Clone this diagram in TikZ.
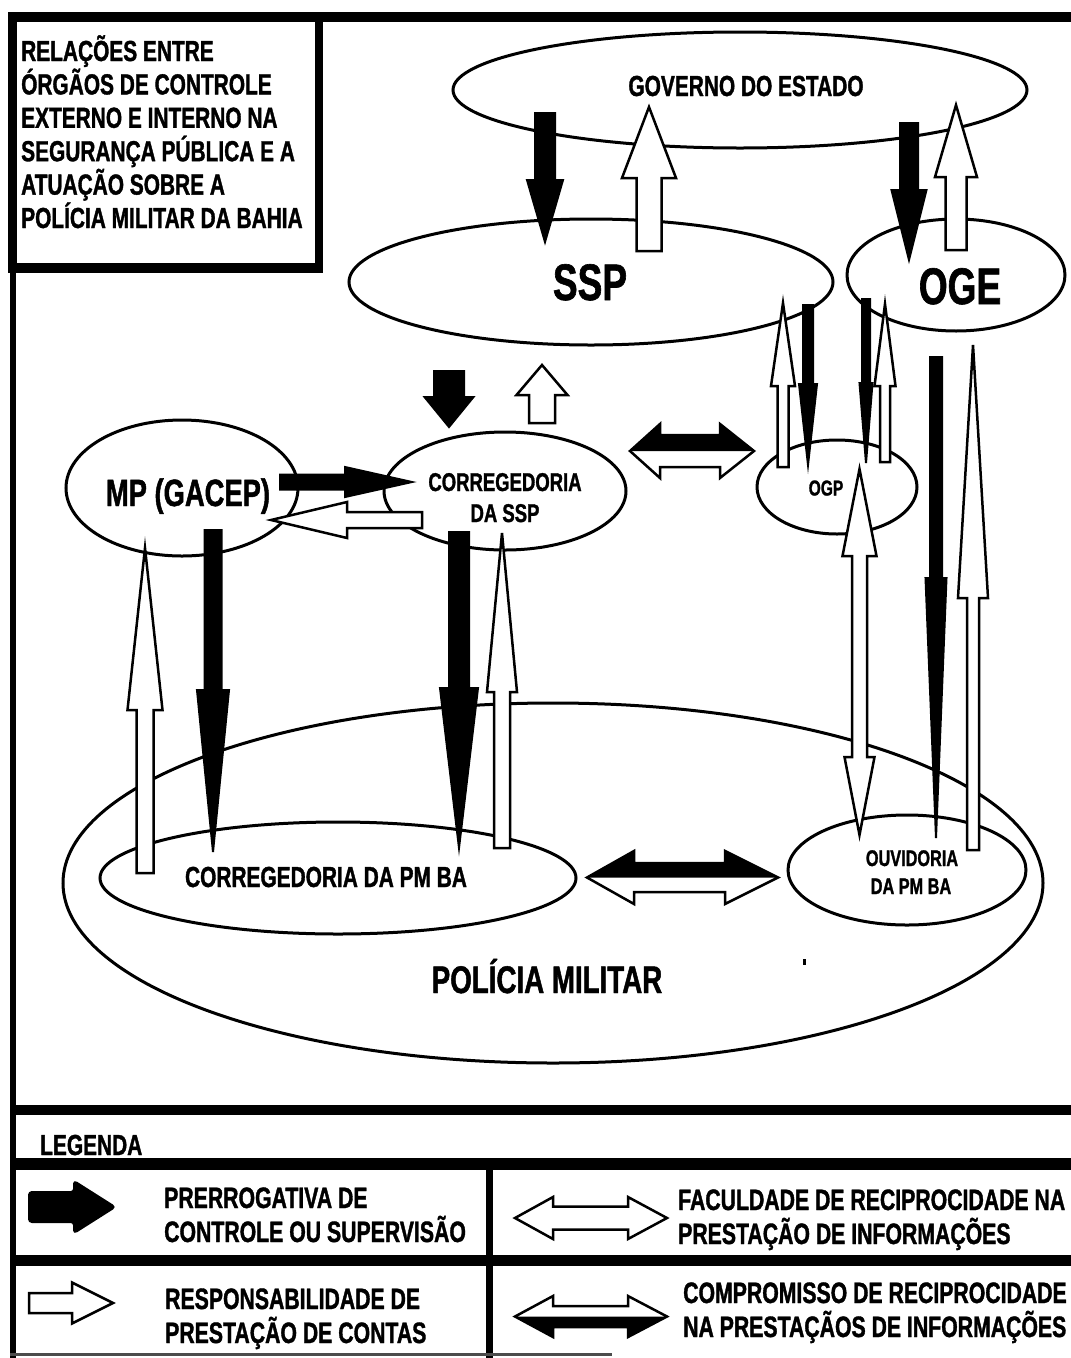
\documentclass[tikz,border=0pt]{standalone}
\usepackage{fontspec}
\newfontfamily\nar[FakeStretch=0.72,FakeBold=1.2]{Liberation Sans}
\usetikzlibrary{shapes.geometric,calc}
\newcommand{\fsz}[1]{\fontsize{#1pt}{#1pt}\selectfont}
% single block arrow: #1 style, #2 tail, #3 tip, #4 shaft half width, #5 head half width, #6 head length
\newcommand{\blockarr}[6]{%
  \path ($(#3)!#6!(#2)$) coordinate (hb);
  \draw[#1] ($(#2)!#4!90:(#3)$) -- ($(hb)!#4!90:(#3)$) -- ($(hb)!#5!90:(#3)$) -- (#3)
    -- ($(hb)!#5!-90:(#3)$) -- ($(hb)!#4!-90:(#3)$) -- ($(#2)!#4!-90:(#3)$) -- cycle;}
% horizontal double arrow: #1 left tip, #2 right tip, #3 shaft half, #4 head half, #5 left head len, #6 right head len, #7 black half (-1 top, 1 bottom, 0 none)
\newcommand{\dblarr}[7]{%
  \def\dblpath{(#1) -- ($(#1)+(#5,-#4)$) -- ($(#1)+(#5,-#3)$) -- ($(#2)+(-#6,-#3)$) -- ($(#2)+(-#6,-#4)$) -- (#2)
    -- ($(#2)+(-#6,#4)$) -- ($(#2)+(-#6,#3)$) -- ($(#1)+(#5,#3)$) -- ($(#1)+(#5,#4)$) -- cycle}%
  \fill[white] \dblpath;
  \ifnum#7=0\relax\else
    \fill[black] (#1) -- ($(#1)+(#5,{(#7)*#4})$) -- ($(#1)+(#5,{(#7)*#3})$) -- ($(#2)+(-#6,{(#7)*#3})$) -- ($(#2)+(-#6,{(#7)*#4})$) -- (#2) -- cycle;
  \fi
  \draw[dblline] \dblpath;}
\tikzset{
  ell/.style={draw=black, line width=3pt, ellipse, inner sep=0pt, outer sep=0pt},
  lbl/.style={font=\nar\bfseries, inner sep=0pt, text=black},
  blk/.style={fill=black, draw=black, line width=2pt, line join=miter},
  wht/.style={fill=white, draw=black, line width=2.5pt, line join=miter},
  dblline/.style={draw=black, line width=2.5pt, line join=miter},
  band/.style={fill=black, draw=none},
}
\begin{document}
\begin{tikzpicture}[x=1pt,y=-1pt]
\useasboundingbox (0,0) rectangle (1071,1358);
\fill[white] (0,0) rectangle (1071,1358);

% ---------- frame ----------
\fill[band] (8,12) rectangle (1071,22);
\fill[band] (8,12) rectangle (17,273);
\fill[band] (315,12) rectangle (323,273);
\fill[band] (8,263) rectangle (323,273);
\fill[band] (10,263) rectangle (16,1358);
\fill[band] (10,1105) rectangle (1071,1115);
\fill[band] (10,1158) rectangle (1071,1170);
\fill[band] (10,1255) rectangle (1071,1266);
\fill[band] (486,1170) rectangle (493,1358);
\fill[black!70] (10,1353) rectangle (612,1356);

% ---------- ellipses ----------
\node[ell, minimum width=574pt, minimum height=116pt] (gov) at (740,90) {};
\node[ell, minimum width=484pt, minimum height=126pt] (ssp) at (591,282) {};
\node[ell, minimum width=218pt, minimum height=112pt] (oge) at (956,275) {};
\node[ell, minimum width=232pt, minimum height=136pt] (mp) at (182,488) {};
\node[ell, minimum width=242pt, minimum height=118pt] (cssp) at (505,491) {};
\node[ell, minimum width=160pt, minimum height=94pt] (ogp) at (837,487) {};
\node[ell, minimum width=980pt, minimum height=360pt] (pm) at (553,883) {};
\node[ell, minimum width=476pt, minimum height=112pt] (cpm) at (338,878) {};
\node[ell, minimum width=238pt, minimum height=110pt] (ouv) at (907,870) {};

% ---------- arrow end points ----------
\coordinate (b1a) at (545,113);  \coordinate (b1b) at (545,242);
\coordinate (w1a) at (649,251);  \coordinate (w1b) at (649,107);
\coordinate (b2a) at (909,123);  \coordinate (b2b) at (909,260);
\coordinate (w2a) at (956,250);  \coordinate (w2b) at (956,105);
\coordinate (b3a) at (449,371);  \coordinate (b3b) at (449,427);
\coordinate (w3a) at (542,423);  \coordinate (w3b) at (542,365);
\coordinate (b4a) at (280,482);  \coordinate (b4b) at (412,482);
\coordinate (w4a) at (422,520);  \coordinate (w4b) at (271,520);
\coordinate (b5a) at (213,530);  \coordinate (b5b) at (213,852);
\coordinate (w5a) at (145,873);  \coordinate (w5b) at (145,548);
\coordinate (b6a) at (459,532);  \coordinate (b6b) at (459,848);
\coordinate (w6a) at (502,848);  \coordinate (w6b) at (502,533);
\coordinate (w7a) at (783,467);  \coordinate (w7b) at (783,303);
\coordinate (b7a) at (808,305);  \coordinate (b7b) at (808,465);
\coordinate (b8a) at (866,299);  \coordinate (b8b) at (866,463);
\coordinate (w8a) at (885,462);  \coordinate (w8b) at (885,304);
\coordinate (b9a) at (936,357);  \coordinate (b9b) at (936,838);
\coordinate (w9a) at (973,850);  \coordinate (w9b) at (973,345);
\coordinate (d1a) at (630,451);  \coordinate (d1b) at (754,451);
\coordinate (d2a) at (587,877.5);\coordinate (d2b) at (778,877.5);
\coordinate (vdt) at (859.5,469);\coordinate (vdb) at (859.5,835);

% ---------- arrows ----------
\blockarr{blk}{b1a}{b1b}{10pt}{18pt}{62pt}
\blockarr{wht}{w1a}{w1b}{12.5pt}{27pt}{71pt}
\blockarr{blk}{b2a}{b2b}{9pt}{17.5pt}{70pt}
\blockarr{wht}{w2a}{w2b}{10.5pt}{21pt}{72pt}
\blockarr{blk}{b3a}{b3b}{15pt}{24.5pt}{30pt}
\blockarr{wht}{w3a}{w3b}{13pt}{25.5pt}{30pt}
\blockarr{blk}{b4a}{b4b}{7.5pt}{15pt}{67pt}
\blockarr{wht}{w4a}{w4b}{8pt}{18pt}{76pt}
\blockarr{blk}{b5a}{b5b}{8.5pt}{16pt}{162pt}
\blockarr{wht}{w5a}{w5b}{8.5pt}{17.5pt}{162pt}
\blockarr{blk}{b6a}{b6b}{10pt}{19pt}{160pt}
\blockarr{wht}{w6a}{w6b}{8pt}{15pt}{159pt}
\blockarr{wht}{w7a}{w7b}{5.5pt}{12pt}{83pt}
\blockarr{blk}{b7a}{b7b}{5pt}{9pt}{81pt}
\blockarr{blk}{b8a}{b8b}{4pt}{6.5pt}{80pt}
\blockarr{wht}{w8a}{w8b}{5pt}{10.5pt}{82pt}
\blockarr{blk}{b9a}{b9b}{6pt}{10.5pt}{260pt}
\blockarr{wht}{w9a}{w9b}{6pt}{15pt}{253pt}
% vertical white double arrow OGP <-> Ouvidoria
\draw[wht] (vdt) -- ($(vdt)+(17,87)$) -- ($(vdt)+(7.5,87)$) -- ($(vdb)+(7.5,-78)$) -- ($(vdb)+(15,-78)$) -- (vdb)
  -- ($(vdb)+(-15,-78)$) -- ($(vdb)+(-7.5,-78)$) -- ($(vdt)+(-7.5,87)$) -- ($(vdt)+(-17,87)$) -- cycle;
% horizontal double arrows
\dblarr{d1a}{d1b}{16}{27}{30}{34}{-1}
\dblarr{d2a}{d2b}{14.5}{26.5}{47}{53}{-1}

\fill[black] (803,959) rectangle (806,965);

% ---------- labels ----------
\node[lbl, font=\nar\bfseries\fsz{29}, anchor=base west] (t1) at (21,61) {RELAÇÕES ENTRE};
\node[lbl, font=\nar\bfseries\fsz{29}, anchor=base west] (t2) at (21,94.4) {ÓRGÃOS DE CONTROLE};
\node[lbl, font=\nar\bfseries\fsz{29}, anchor=base west] (t3) at (21,127.8) {EXTERNO E INTERNO NA};
\node[lbl, font=\nar\bfseries\fsz{29}, anchor=base west] (t4) at (21,161.2) {SEGURANÇA PÚBLICA E A};
\node[lbl, font=\nar\bfseries\fsz{29}, anchor=base west] (t5) at (21,194.6) {ATUAÇÃO SOBRE A};
\node[lbl, font=\nar\bfseries\fsz{29}, anchor=base west] (t6) at (21,228) {POLÍCIA MILITAR DA BAHIA};

\node[lbl, font=\nar\bfseries\fsz{29}, anchor=base] (govt) at (746,96) {GOVERNO DO ESTADO};
\node[lbl, font=\nar\bfseries\fsz{51.4}, anchor=base] (sspt) at (590,300) {SSP};
\node[lbl, font=\nar\bfseries\fsz{51.4}, anchor=base] (oget) at (960,304) {OGE};
\node[lbl, font=\nar\bfseries\fsz{38}, anchor=base] (mpt) at (188,506) {MP (GACEP)};
\node[lbl, font=\nar\bfseries\fsz{25.7}, anchor=base] (csspt1) at (505,491) {CORREGEDORIA};
\node[lbl, font=\nar\bfseries\fsz{25.7}, anchor=base] (csspt2) at (505,522) {DA SSP};
\node[lbl, font=\nar\bfseries\fsz{21.6}, anchor=base] (ogpt) at (826,495.5) {OGP};
\node[lbl, font=\nar\bfseries\fsz{29}, anchor=base] (cpmt) at (326,887) {CORREGEDORIA DA PM BA};
\node[lbl, font=\nar\bfseries\fsz{22.6}, anchor=base] (ouvt1) at (912,866) {OUVIDORIA};
\node[lbl, font=\nar\bfseries\fsz{22.6}, anchor=base] (ouvt2) at (911,894) {DA PM BA};
\node[lbl, font=\nar\bfseries\fsz{38.5}, anchor=base] (pmt) at (547,993) {POLÍCIA MILITAR};

% ---------- legend ----------
\node[lbl, font=\nar\bfseries\fsz{29}, anchor=base west] (leg) at (40,1155) {LEGENDA};
\coordinate (lba) at (29,1207); \coordinate (lbb) at (115,1207);
\coordinate (lwa) at (29,1303); \coordinate (lwb) at (113,1303);
\coordinate (ld1a) at (515,1218); \coordinate (ld1b) at (667,1218);
\coordinate (ld2a) at (515,1316.5); \coordinate (ld2b) at (667,1316.5);
\blockarr{blk, rounded corners=3pt}{lba}{lbb}{15pt}{26pt}{41pt}
\blockarr{wht}{lwa}{lwb}{10pt}{20.5pt}{41pt}
\dblarr{ld1a}{ld1b}{11.5}{21}{38}{39}{0}
\dblarr{ld2a}{ld2b}{10.5}{20.5}{38}{39}{1}

\node[lbl, font=\nar\bfseries\fsz{29.5}, anchor=base west] (l1a) at (164,1208) {PRERROGATIVA DE};
\node[lbl, font=\nar\bfseries\fsz{29.5}, anchor=base west] (l1b) at (164,1242) {CONTROLE OU SUPERVISÃO};
\node[lbl, font=\nar\bfseries\fsz{29.5}, anchor=base west] (l2a) at (678,1210) {FACULDADE DE RECIPROCIDADE NA};
\node[lbl, font=\nar\bfseries\fsz{29.5}, anchor=base west] (l2b) at (678,1244) {PRESTAÇÃO DE INFORMAÇÕES};
\node[lbl, font=\nar\bfseries\fsz{29.5}, anchor=base west] (l3a) at (165,1309) {RESPONSABILIDADE DE};
\node[lbl, font=\nar\bfseries\fsz{29.5}, anchor=base west] (l3b) at (165,1343) {PRESTAÇÃO DE CONTAS};
\node[lbl, font=\nar\bfseries\fsz{29.5}, anchor=base west] (l4a) at (683,1303) {COMPROMISSO DE RECIPROCIDADE};
\node[lbl, font=\nar\bfseries\fsz{29.5}, anchor=base west] (l4b) at (683,1337) {NA PRESTAÇÃOS DE INFORMAÇÕES};
\end{tikzpicture}
\end{document}
